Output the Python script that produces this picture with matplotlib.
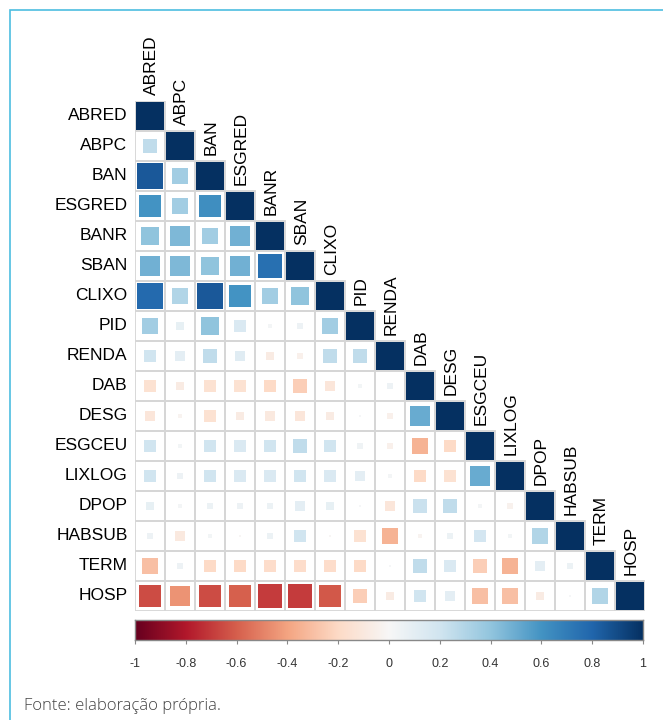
import numpy as np
import matplotlib
matplotlib.use("Agg")
import matplotlib.pyplot as plt
from matplotlib.patches import Rectangle

variables = ["ABRED", "ABPC", "BAN", "ESGRED", "BANR", "SBAN", "CLIXO", "PID", "RENDA",
             "DAB", "DESG", "ESGCEU", "LIXLOG", "DPOP", "HABSUB", "TERM", "HOSP"]

# lower triangle of the correlation matrix, row by row (diagonal excluded)
lower = [
    [],
    [0.25],
    [0.85, 0.35],
    [0.60, 0.35, 0.62],
    [0.40, 0.45, 0.35, 0.48],
    [0.48, 0.45, 0.40, 0.48, 0.75],
    [0.78, 0.30, 0.85, 0.60, 0.35, 0.40],
    [0.35, 0.08, 0.40, 0.15, 0.02, 0.05, 0.35],
    [0.20, 0.10, 0.25, 0.12, -0.08, -0.05, 0.25, 0.25],
    [-0.15, -0.08, -0.15, -0.15, -0.20, -0.25, -0.12, 0.03, 0.05],
    [-0.12, -0.03, -0.15, -0.08, -0.10, -0.12, -0.08, 0.01, -0.05, 0.50],
    [0.20, 0.03, 0.20, 0.15, 0.20, 0.25, 0.20, 0.04, -0.05, -0.35, -0.20],
    [0.20, 0.05, 0.20, 0.15, 0.15, 0.20, 0.15, 0.10, 0.02, -0.20, -0.15, 0.50],
    [0.08, 0.02, 0.06, 0.05, 0.06, 0.10, 0.08, 0.01, -0.12, 0.22, 0.25, 0.02, -0.04],
    [0.05, -0.10, 0.03, -0.01, 0.06, 0.20, -0.01, -0.15, -0.35, -0.03, 0.06, 0.18, 0.03, 0.30],
    [-0.30, 0.05, -0.20, -0.20, -0.18, -0.18, -0.18, -0.20, 0.01, 0.25, 0.15, -0.25, -0.35, 0.10, 0.06],
    [-0.65, -0.45, -0.65, -0.60, -0.70, -0.70, -0.62, -0.25, -0.08, 0.20, 0.10, -0.30, -0.30, -0.08, 0.01, 0.30],
]

cbar_ticks = [-1, -0.8, -0.6, -0.4, -0.2, 0, 0.2, 0.4, 0.6, 0.8, 1]
cbar_labels = ["-1", "-0.8", "-0.6", "-0.4", "-0.2", "0", "0.2", "0.4", "0.6", "0.8", "1"]

n = len(variables)
corr = np.eye(n)
for i, row in enumerate(lower):
    for j, v in enumerate(row):
        corr[i, j] = v
        corr[j, i] = v

plt.rcParams["font.family"] = ["Liberation Sans", "DejaVu Sans"]
cmap = plt.get_cmap("RdBu")
norm = matplotlib.colors.Normalize(-1, 1)

W, H = 663, 720
fig = plt.figure(figsize=(W / 100, H / 100), dpi=100)

# outer light blue frame
fig.patches.append(Rectangle((10 / W, -0.1), 1.2, (H - 10) / H + 0.1, transform=fig.transFigure,
                             fill=False, edgecolor="#4dbde0", linewidth=1.2))

gx0, gy0, cell = 135, 101, 30
ax = fig.add_axes([gx0 / W, 1 - (gy0 + n * cell) / H, n * cell / W, n * cell / H])
ax.set_xlim(0, n)
ax.set_ylim(n, 0)
ax.axis("off")

for i in range(n):
    for j in range(i + 1):
        ax.add_patch(Rectangle((j, i), 1, 1, fill=False, edgecolor="#d6d6d6", linewidth=1.3))
        r = corr[i, j]
        s = 0.95 * np.sqrt(abs(r))
        ax.add_patch(Rectangle((j + 0.5 - s / 2, i + 0.5 - s / 2), s, s,
                               facecolor=cmap(norm(r)), edgecolor="none"))

for i, name in enumerate(variables):
    ax.text(-0.25, i + 0.5, name, ha="right", va="center", fontsize=12.5, color="black")
    ax.text(i + 0.55, i - 0.2, name, ha="center", va="bottom", rotation=90, fontsize=12.5, color="black")

# colorbar
cax = fig.add_axes([135 / W, 1 - 640 / H, 508 / W, 20 / H])
grad = np.linspace(-1, 1, 256).reshape(1, -1)
cax.imshow(grad, cmap=cmap, norm=norm, aspect="auto", extent=[-1, 1, 0, 1])
cax.set_yticks([])
cax.set_xticks(cbar_ticks)
cax.set_xticklabels(cbar_labels, fontsize=9, color="#333333")
cax.tick_params(axis="x", length=3, color="#888888", pad=10)
for sp in cax.spines.values():
    sp.set_color("#888888")
    sp.set_linewidth(1)

fig.text(24 / W, 1 - 706 / H, "Fonte: elaboração própria.", fontsize=12, color="#444444",
         family=["Open Sans", "DejaVu Sans"], fontweight="light", va="center")

fig.savefig("out.png", dpi=100)
